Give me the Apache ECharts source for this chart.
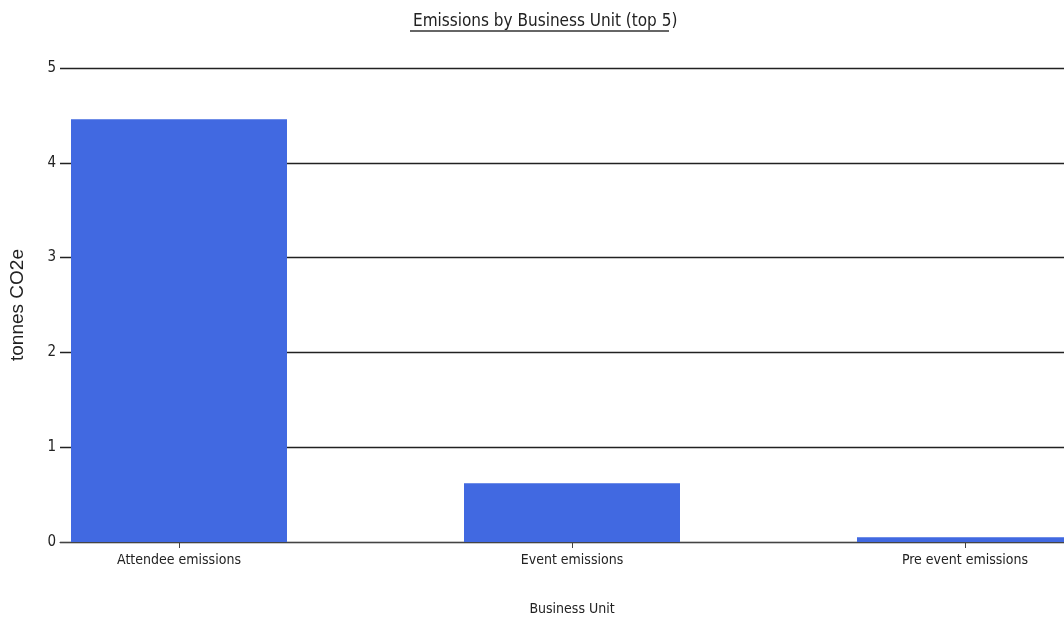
<!DOCTYPE html>
<html>
<head>
<meta charset="utf-8">
<style>html,body{margin:0;padding:0;background:#fff;}#c{width:1064px;height:621px;}</style>
<script src="https://cdn.jsdelivr.net/npm/echarts@6/dist/echarts.min.js"></script>
</head>
<body>
<div id="c"></div>
<script>
const categories = ['Attendee emissions', 'Event emissions', 'Pre event emissions'];
const values = [4.46, 0.62, 0.05];
const yMin = 0, yMax = 5, yStep = 1;
const titleText = 'Emissions by Business Unit (top 5)';
const xName = 'Business Unit';
const yName = 'tonnes CO2e';

const catIndex = categories.map((c, i) => i);
const seriesData = values.map((v, i) => [i, v]);

const narrow = '"Liberation Sans Narrow", "Arial Narrow", "DejaVu Sans Condensed", sans-serif';
const chart = echarts.init(document.getElementById('c'));
chart.setOption({
  animation: false,
  title: {
    text: titleText, left: 408, top: 8,
    textStyle: { fontFamily: narrow, fontSize: 17, fontWeight: 'normal', color: '#222' }
  },
  graphic: [{
    type: 'line', shape: { x1: 410, y1: 31, x2: 669, y2: 31 },
    style: { stroke: '#333', lineWidth: 1.5 }
  }],
  grid: { left: 60, right: 0, top: 68, height: 474, containLabel: false },
  xAxis: {
    type: 'value', min: -0.3028, max: 2.2519,
    name: xName, nameLocation: 'middle', nameGap: 60,
    nameTextStyle: { fontFamily: narrow, fontSize: 14, color: '#222', padding: [0, 0, 0, 20] },
    axisLine: { show: true, lineStyle: { color: '#444', width: 1.2 } },
    axisTick: { show: true, customValues: catIndex, length: 6, lineStyle: { color: '#444' } },
    axisLabel: {
      customValues: catIndex, fontFamily: narrow, fontSize: 14, color: '#222', margin: 11,
      formatter: v => categories[Math.round(v)]
    },
    splitLine: { show: false }
  },
  yAxis: {
    type: 'value', min: yMin, max: yMax, interval: yStep,
    name: yName, nameLocation: 'middle', nameGap: 33, nameRotate: 90,
    nameTextStyle: { fontFamily: '"Liberation Sans", Arial, sans-serif', fontSize: 19, color: '#222' },
    axisLine: { show: false }, axisTick: { show: false },
    axisLabel: { fontFamily: narrow, fontSize: 15, color: '#222', margin: 4 },
    splitLine: { show: true, lineStyle: { color: '#222', width: 1.3 } }
  },
  series: [{
    type: 'bar', data: seriesData, barWidth: 216,
    itemStyle: { color: '#4169E1' }
  }]
});
</script>
</body>
</html>
